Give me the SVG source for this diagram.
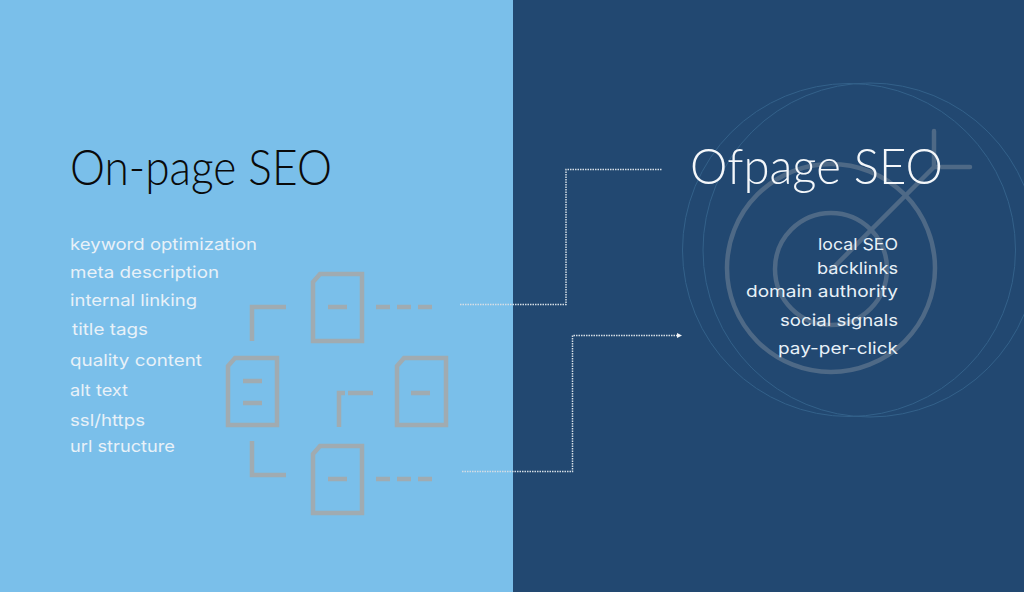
<svg xmlns="http://www.w3.org/2000/svg" width="1024" height="592" viewBox="0 0 1024 592">
<style>
.title{font-family:"Lato","Open Sans",sans-serif;font-weight:300;font-size:50px}
.item{font-family:"Inter","Open Sans",sans-serif;font-weight:400;font-size:16.5px;fill:#e8f1f8}
.doc{fill:none;stroke:#a0abb1;stroke-width:4.5}
.ring{fill:none;stroke:#33618a;stroke-width:1}
.tgt{fill:none;stroke:#4e6986;stroke-width:4.500;stroke-linecap:round}
.dot{fill:none;stroke:#d5dde5;stroke-width:1.500;stroke-dasharray:1.500 1}
</style>
<defs>
<marker id="arrow" markerUnits="userSpaceOnUse" markerWidth="6" markerHeight="6" refX="1" refY="3" orient="auto"><path d="M0 0.5L5 3L0 5.500Z" fill="#f2f4f6"/></marker>
</defs>
<rect id="panel-left" x="0" y="0" width="513" height="592" fill="#7abfea"/>
<rect id="panel-right" x="513" y="0" width="511" height="592" fill="#224871"/>
<g id="target-graphic">
<circle class="ring" cx="849" cy="250" r="166.500"/>
<circle class="ring" cx="870" cy="250" r="167"/>
<circle class="tgt" cx="831" cy="268" r="104"/>
<circle class="tgt" cx="831" cy="269" r="56"/>
<path class="tgt" d="M831 270L934 167M934 131V167H970"/>
</g>
<g id="doc-network">
<g id="doc-top"><path class="doc" d="M313 341V282L320 274H362V341Z"/><path class="doc" d="M328 307H347M376 307H390M397 307H411M418 307H432"/></g>
<g id="doc-left"><path class="doc" d="M228 425V366L235 358H277V425Z"/><path class="doc" d="M243 381H262M243 403H262"/></g>
<g id="doc-right"><path class="doc" d="M397 425V366L404 358H446V425Z"/><path class="doc" d="M411 393H430"/></g>
<g id="doc-bottom"><path class="doc" d="M313 513V454L320 446H362V513Z"/><path class="doc" d="M328 479H347M376 479H390M397 479H411M418 479H432"/></g>
<path class="doc" d="M252 341V307H286M252 441V475H286M339 427V393H345M348 393H373"/>
</g>
<g id="connectors">
<path class="dot" d="M460 304.500H566V169.500H662"/>
<path class="dot" d="M462 471.500H572.500V335.500H678" marker-end="url(#arrow)"/>
</g>
<g id="on-page">
<text class="title" x="70" y="185" fill="#0a0a0a" textLength="262" lengthAdjust="spacingAndGlyphs">On-page SEO</text>
<text class="item" x="70" y="250" textLength="187" lengthAdjust="spacingAndGlyphs">keyword optimization</text>
<text class="item" x="70" y="278" textLength="149" lengthAdjust="spacingAndGlyphs">meta description</text>
<text class="item" x="70" y="306" textLength="127" lengthAdjust="spacingAndGlyphs">internal linking</text>
<text class="item" x="72" y="335" textLength="76" lengthAdjust="spacingAndGlyphs">title tags</text>
<text class="item" x="70" y="366" textLength="132" lengthAdjust="spacingAndGlyphs">quality content</text>
<text class="item" x="70" y="396" textLength="58" lengthAdjust="spacingAndGlyphs">alt text</text>
<text class="item" x="70" y="426" textLength="75" lengthAdjust="spacingAndGlyphs">ssl/https</text>
<text class="item" x="70" y="452" textLength="105" lengthAdjust="spacingAndGlyphs">url structure</text>
</g>
<g id="off-page">
<text class="title" x="690" y="184" fill="#f4f7fa" textLength="253" lengthAdjust="spacingAndGlyphs">Ofpage SEO</text>
<text class="item" x="818" y="250" textLength="80" lengthAdjust="spacingAndGlyphs">local SEO</text>
<text class="item" x="817" y="274" textLength="81" lengthAdjust="spacingAndGlyphs">backlinks</text>
<text class="item" x="746" y="297" textLength="152" lengthAdjust="spacingAndGlyphs">domain authority</text>
<text class="item" x="780" y="326" textLength="118" lengthAdjust="spacingAndGlyphs">social signals</text>
<text class="item" x="778" y="354" textLength="120" lengthAdjust="spacingAndGlyphs">pay-per-click</text>
</g>
</svg>
